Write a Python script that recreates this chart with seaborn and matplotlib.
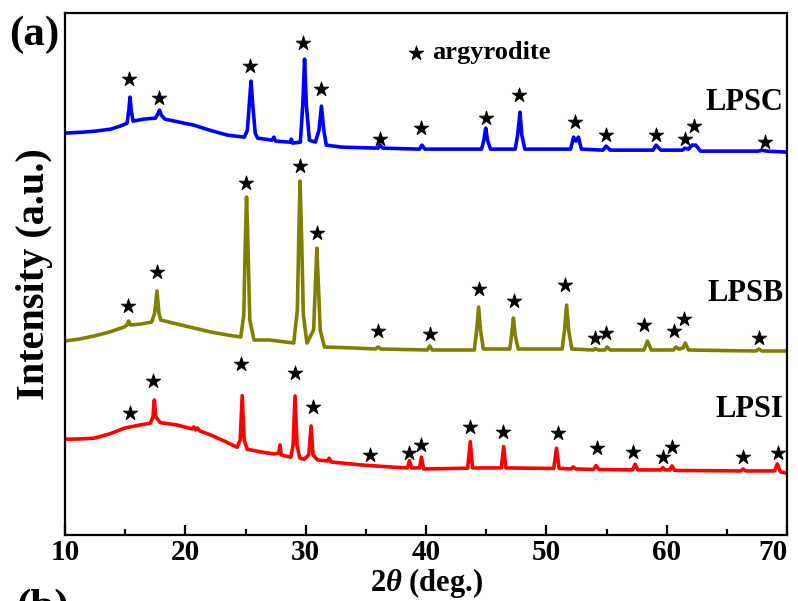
import numpy as np
import pandas as pd
import matplotlib
matplotlib.use("Agg")
import matplotlib.pyplot as plt
import seaborn as sns
from matplotlib.ticker import MultipleLocator

# --- DATA (2theta in deg, intensity in a.u.) ---
lpsc_x = [10.0, 11.5, 12.5, 13.8, 14.8, 15.15, 15.3, 15.4, 15.5, 15.65, 16.5, 17.5, 17.7, 17.85,
          18.0, 18.3, 19.5, 20.7, 22.0, 23.5, 24.9, 25.15, 25.3, 25.45, 25.6, 25.8, 26.0, 27.2,
          27.35, 27.5, 28.7, 28.8, 28.9, 29.55, 29.75, 29.9, 30.05, 30.3, 30.8, 31.1, 31.3,
          31.5, 31.7, 33.0, 36.0, 36.15, 36.4, 39.45, 39.65, 39.9, 44.6, 44.8, 44.95, 45.1,
          45.35, 47.4, 47.6, 47.8, 47.95, 48.2, 52.0, 52.25, 52.45, 52.65, 52.9, 54.7, 54.95,
          55.3, 58.85, 59.1, 59.5, 61.3, 61.5, 61.8, 62.1, 62.4, 62.8, 67.6, 67.9, 68.3, 70.0]
lpsc_y = [402, 403, 404, 406, 410, 412, 425, 438, 425, 414, 416, 417, 421, 425,
          420, 416, 413, 410, 405, 400, 398, 405, 430, 454, 430, 402, 397, 395,
          398, 394, 393, 396, 392, 393, 430, 476, 430, 395, 393, 405, 429,
          405, 390, 388, 387, 390, 387, 386, 390, 386, 386, 395, 407, 395,
          386, 386, 400, 423, 400, 386, 386, 398, 394, 398, 386, 385, 389,
          385, 385, 390, 385, 385, 387, 386, 390, 390, 384, 384, 385, 384, 383]

lpsb_x = [10.0, 11.2, 12.4, 13.7, 14.9, 15.15, 15.28, 15.45, 16.3, 17.2, 17.45, 17.64, 17.8,
          17.95, 19.3, 20.7, 22.1, 23.5, 24.6, 24.85, 24.97, 25.08, 25.2, 25.35, 25.7, 27.0,
          29.0, 29.3, 29.42, 29.53, 29.65, 29.8, 30.1, 30.65, 30.8, 30.92, 31.05, 31.2, 31.55,
          34.0, 35.8, 36.0, 36.25, 40.1, 40.3, 40.5, 44.0, 44.2, 44.36, 44.52, 44.75, 46.95,
          47.1, 47.25, 47.4, 47.65, 51.3, 51.5, 51.67, 51.84, 52.1, 53.9, 54.08, 54.3, 54.85,
          55.03, 55.3, 58.1, 58.39, 58.7, 60.55, 60.75, 61.0, 61.35, 61.53, 61.8, 67.4, 67.64,
          67.9, 70.0]
lpsb_y = [194, 196, 199, 203, 208, 210, 214, 210, 211, 213, 222, 244, 222,
          215, 211, 207, 203, 200, 198, 220, 290, 338, 290, 215, 195, 195,
          192, 225, 300, 354, 300, 220, 192, 205, 250, 287, 250, 205, 188,
          187, 186, 188, 186, 185, 189, 185, 185, 205, 228, 205, 186, 186,
          200, 217, 200, 186, 186, 205, 230, 205, 186, 185, 186.5, 185, 185,
          188, 185, 185, 194, 185, 185, 188, 186, 187, 192, 185, 184, 186,
          184, 184]

lpsi_x = [10.0, 11.2, 12.4, 13.7, 14.9, 16.0, 17.08, 17.3, 17.42, 17.54, 17.92, 19.3, 20.55,
          20.7, 20.85, 21.0, 21.2, 22.1, 23.2, 24.3, 24.55, 24.72, 24.88, 25.14, 26.3, 27.36,
          27.75, 27.86, 27.97, 28.75, 28.95, 29.11, 29.27, 29.5, 29.86, 30.25, 30.44, 30.6,
          30.97, 31.8, 31.94, 32.1, 34.58, 37.36, 38.45, 38.61, 38.8, 39.45, 39.61, 39.8, 43.45,
          43.67, 43.85, 46.25, 46.44, 46.63, 50.6, 50.83, 51.05, 52.05, 52.22, 52.4, 53.9,
          54.11, 54.35, 57.15, 57.36, 57.6, 59.5, 59.67, 59.85, 60.25, 60.42, 60.65, 66.15,
          66.33, 66.55, 68.95, 69.17, 69.45, 70.0]
lpsi_y = [95.7, 96, 96.7, 101, 106.7, 109.5, 111.7, 118, 135, 118, 112.3, 110, 106,
          108, 105, 107, 104, 100, 94, 87.7, 95, 139.3, 95, 85.7, 83, 81,
          82, 90, 80, 77.7, 90, 139, 90, 77, 75.7, 80, 109, 80,
          75, 74, 76.7, 73, 70, 67.7, 67, 74.3, 67, 67, 77.7, 66, 66.7,
          93.3, 67, 67, 88.3, 67, 66.5, 86.7, 66.5, 66, 68, 66, 65.5,
          69.3, 65.5, 65, 70.7, 65, 65, 67.3, 65, 65, 69, 64.5, 64,
          66, 64, 64, 71, 63, 61.7]

# argyrodite star marks
lpsc_star_x = [15.28, 17.83, 25.36, 29.81, 31.28, 36.14, 39.58, 44.94, 47.73, 52.36, 54.94,
               59.11, 61.53, 62.22, 68.19]
lpsc_star_y = [456, 436.7, 469.3, 492.3, 446, 396, 407.3, 417.3, 440, 413.3, 400, 400, 395.7,
               409, 393.3]
lpsb_star_x = [15.22, 17.64, 25.03, 29.5, 30.97, 36.0, 40.33, 44.36, 47.28, 51.56, 54.03,
               54.92, 58.14, 60.56, 61.39, 67.64]
lpsb_star_y = [229.3, 263, 351.7, 369.3, 301.7, 204.3, 201.3, 246, 234, 250, 196.7, 201.7,
               210, 204, 215.7, 196.7]
lpsi_star_x = [15.42, 17.31, 24.64, 29.11, 30.56, 35.31, 38.61, 39.58, 43.61, 46.39, 50.92,
               54.22, 57.22, 59.64, 60.42, 66.33, 69.25]
lpsi_star_y = [121.7, 153.7, 171, 161.7, 128.3, 80, 82.3, 90.3, 108.3, 103.3, 101.7, 86.7,
               82.7, 78.3, 88.3, 78.3, 81.7]

names = ["LPSC", "LPSB", "LPSI"]
colors = ["#0000FF", "#808000", "#FF0000"]
label_y = [433, 242, 125]
xticks = [10, 20, 30, 40, 50, 60, 70]

# --- STYLE ---
sns.set_style("ticks")
plt.rcParams["font.family"] = ["Liberation Serif", "DejaVu Serif"]
plt.rcParams["font.weight"] = "bold"
plt.rcParams["text.color"] = "black"
plt.rcParams["axes.labelcolor"] = "black"
plt.rcParams["xtick.color"] = "black"
plt.rcParams["mathtext.fontset"] = "custom"
plt.rcParams["mathtext.rm"] = "Liberation Serif:bold"
plt.rcParams["mathtext.it"] = "Liberation Serif:italic:bold"

fig = plt.figure(figsize=(7.98, 6.01), dpi=100)
ax = fig.add_axes([0.0815, 0.110, 0.905, 0.868])

curves = [(lpsc_x, lpsc_y), (lpsb_x, lpsb_y), (lpsi_x, lpsi_y)]
stars = [(lpsc_star_x, lpsc_star_y), (lpsb_star_x, lpsb_star_y), (lpsi_star_x, lpsi_star_y)]

for (cx, cy), (sx, sy), name, col, ly in zip(curves, stars, names, colors, label_y):
    sns.lineplot(x=cx, y=cy, ax=ax, color=col, lw=2.6, sort=False, estimator=None)
    sns.scatterplot(x=sx, y=sy, ax=ax, marker="*", s=120, color="black",
                    edgecolor="black", linewidth=0.6, zorder=3)
    ax.text(69.7, ly, name, ha="right", va="center", fontsize=22, fontweight="bold")

# legend-like note
sns.scatterplot(x=[39.17], y=[482], ax=ax, marker="*", s=120, color="black",
                edgecolor="black", linewidth=0.6)
ax.text(40.5, 483, "argyrodite", ha="left", va="center", fontsize=19, fontweight="bold")

ax.set_xticks(xticks)
ax.set_xticklabels([str(t) for t in xticks], fontweight="bold")
ax.xaxis.set_minor_locator(MultipleLocator(5))
ax.set_xlim(10, 70)
ax.set_ylim(0, 522)
ax.set_yticks([])
ax.tick_params(axis="x", which="major", direction="in", length=7, width=1.6,
               labelsize=21, pad=3, colors="black")
ax.tick_params(axis="x", which="minor", direction="in", length=4, width=1.6)
# keep the last label inside the figure
ax.xaxis.get_major_ticks()[-1].label1.set_horizontalalignment("right")
for sp in ax.spines.values():
    sp.set_visible(True)
    sp.set_linewidth(1.6)
    sp.set_color("black")

ax.set_xlabel(r"2$\theta$ (deg.)", fontsize=22, fontweight="bold", labelpad=0)
ax.set_ylabel("Intensity (a.u.)", fontsize=29, fontweight="bold", labelpad=9)

fig.text(0.012, 0.942, "(a)", fontsize=31, fontweight="bold", va="center", ha="left")
fig.text(0.02, 0.02, "(b)", fontsize=31, fontweight="bold", va="top", ha="left")

fig.savefig("out.png", dpi=100)
